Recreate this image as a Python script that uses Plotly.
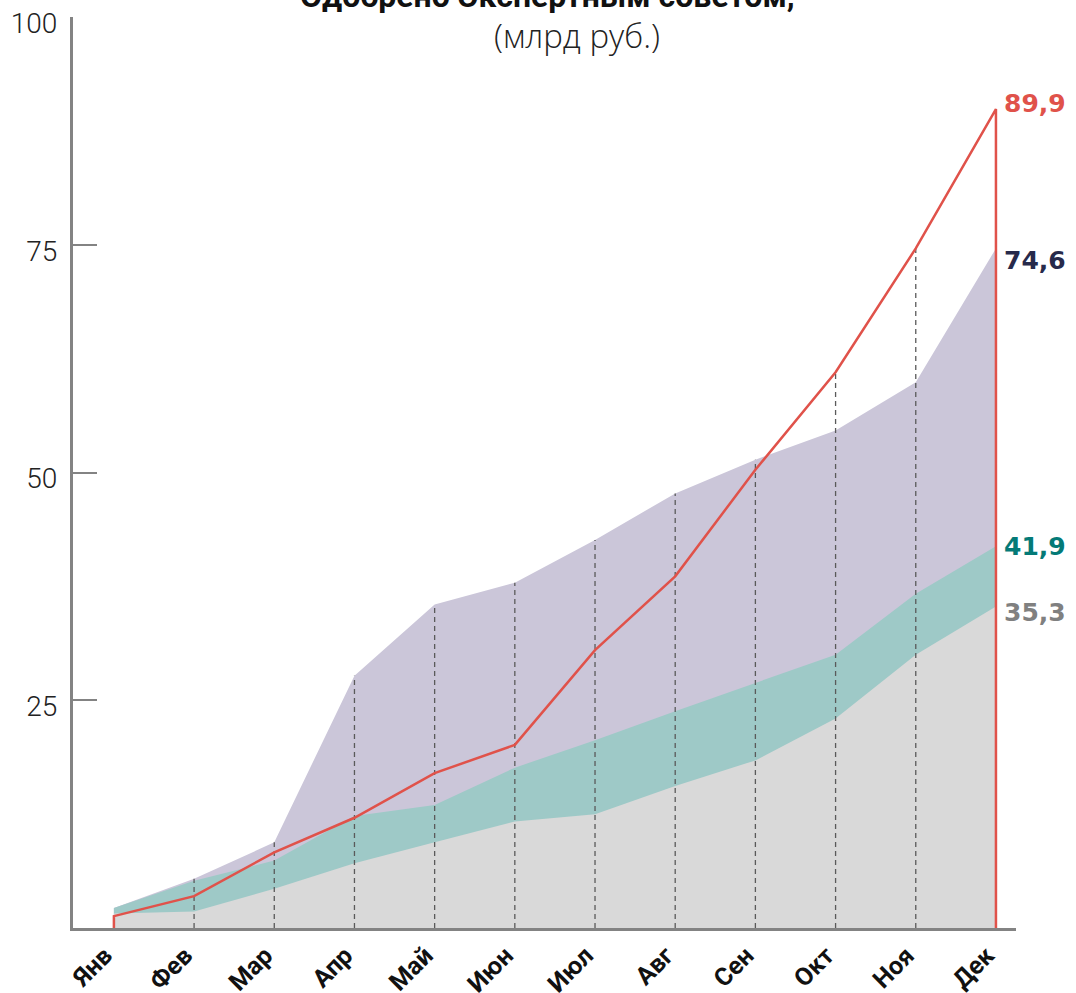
import plotly.graph_objects as go

months = ["Янв", "Фев", "Мар", "Апр", "Май", "Июн", "Июл", "Авг", "Сен", "Окт", "Ноя", "Дек"]
gray_vals = [1.6, 1.8, 4.3, 7.1, 9.4, 11.7, 12.5, 15.6, 18.4, 23.0, 30.0, 35.3]
teal_vals = [2.2, 5.2, 7.4, 12.3, 13.5, 17.6, 20.6, 23.8, 26.9, 30.0, 36.7, 41.9]
purple_vals = [2.2, 5.4, 9.4, 27.7, 35.5, 37.9, 42.6, 47.7, 51.4, 54.6, 59.9, 74.6]
red_vals = [1.3, 3.5, 8.3, 12.1, 17.0, 20.1, 30.5, 38.6, 50.3, 61.0, 74.6, 89.9]

y_ticks = [25, 50, 75, 100]
title_text = "Одобрено Экспертным советом,"
subtitle_text = "(млрд руб.)"

C_GRAY = "#d9d9d9"
C_TEAL = "#9ec9c7"
C_PURPLE = "#cbc6d9"
C_RED = "#e0524a"

fig = go.Figure()
fig.add_trace(go.Scatter(x=months, y=purple_vals, mode="lines", line=dict(width=0),
                         fill="tozeroy", fillcolor=C_PURPLE, hoverinfo="skip"))
fig.add_trace(go.Scatter(x=months, y=teal_vals, mode="lines", line=dict(width=0),
                         fill="tozeroy", fillcolor=C_TEAL, hoverinfo="skip"))
fig.add_trace(go.Scatter(x=months, y=gray_vals, mode="lines", line=dict(width=0),
                         fill="tozeroy", fillcolor=C_GRAY, hoverinfo="skip"))

# dashed guide lines from 0 to the top of the highest series, Фев..Ноя
dx, dy = [], []
for i in range(1, len(months) - 1):
    top = max(purple_vals[i], red_vals[i])
    dx += [months[i], months[i], None]
    dy += [0, top, None]
fig.add_trace(go.Scatter(x=dx, y=dy, mode="lines",
                         line=dict(color="#5a5a5a", width=1.3, dash="5px,4px"),
                         hoverinfo="skip"))

# red outline
rx = [months[0]] + months + [months[-1]]
ry = [0] + red_vals + [0]
fig.add_trace(go.Scatter(x=rx, y=ry, mode="lines", line=dict(color=C_RED, width=2.5),
                         hoverinfo="skip"))

end_labels = [
    (red_vals[-1], C_RED, 6),
    (purple_vals[-1], "#272a4b", -12),
    (teal_vals[-1], "#047a77", 0),
    (gray_vals[-1], "#808080", -6),
]
for val, col, ys in end_labels:
    fig.add_annotation(x=months[-1], y=val, xref="x", yref="y",
                       text=f"{val:.1f}".replace(".", ","), showarrow=False,
                       xanchor="left", yanchor="middle", xshift=6, yshift=ys,
                       font=dict(family="DejaVu Sans", size=25, color=col, weight="bold"))

fig.add_annotation(x=0.503, y=1.0231, xref="paper", yref="paper", text=title_text,
                   showarrow=False, xanchor="center", yanchor="middle",
                   font=dict(family="Roboto", size=32, color="#111", weight="bold"))
fig.add_annotation(x=0.534, y=0.980, xref="paper", yref="paper", text=subtitle_text,
                   showarrow=False, xanchor="center", yanchor="middle",
                   font=dict(family="Open Sans", size=33, color="#222", weight=300))

fig.update_layout(
    width=1076, height=993,
    margin=dict(l=73, r=60, t=17, b=65, autoexpand=False),
    paper_bgcolor="white", plot_bgcolor="white",
    showlegend=False,
    xaxis=dict(type="category", range=[-0.51, 11.25], showline=True, linecolor="#838383",
               linewidth=3, showgrid=False, zeroline=False, ticks="", automargin=False,
               tickangle=-45, ticklabelstandoff=0, ticklabelshift=-9,
               tickfont=dict(family="Roboto", size=25, color="#111", weight="bold")),
    yaxis=dict(range=[0, 100], showline=True, linecolor="#838383", linewidth=3,
               showgrid=False, zeroline=False, ticks="inside", ticklen=24, tickwidth=2,
               automargin=False, ticklabeloverflow="allow", ticklabelshift=6,
               tickcolor="#838383", tickvals=y_ticks, ticklabelstandoff=7,
               tickfont=dict(family="Roboto", size=28, color="#222", weight=300)),
)

fig.write_html("out.html", config={"displayModeBar": False},
               post_script="document.body.style.margin='0px';")
